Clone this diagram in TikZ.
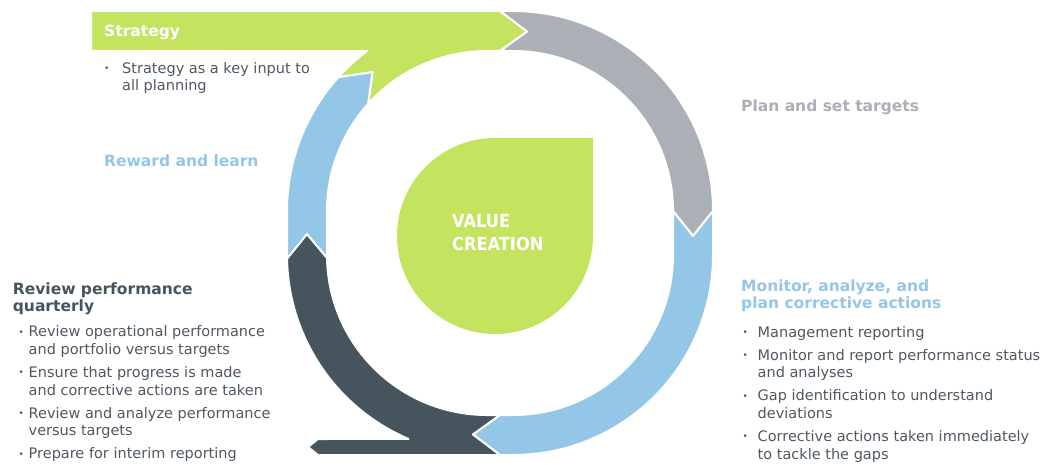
\documentclass[tikz,border=0pt]{standalone}
\usepackage{fontspec}
\setmainfont{DejaVu Sans}
\usepackage{xcolor}

\definecolor{stratgreen}{RGB}{196,227,94}
\definecolor{plangray}{RGB}{170,176,182}
\definecolor{monblue}{RGB}{148,198,231}
\definecolor{revdark}{RGB}{70,84,94}
\definecolor{bodygray}{RGB}{78,88,98}

\newcommand{\bul}[1]{\makebox[#1][l]{\fontsize{9}{9}\selectfont\raisebox{1.6pt}{•}}}

\tikzset{
    seg/.style = {draw = white, line width = 2pt, line join = round},
    head/.style = {font = \bfseries\fontsize{15.5}{17.5}\selectfont, inner sep = 0pt, align = left},
    body/.style = {font = \fontsize{14.5}{17.6}\selectfont, text = bodygray, inner sep = 0pt, align = left}
}

\begin{document}
\begin{tikzpicture}[x = 1pt, y = 1pt]
        \useasboundingbox (0,0) rectangle (1048,464);
        % corner centres of the rounded ring
        \coordinate (TL) at (487,253);
        \coordinate (TR) at (513,253);
        \coordinate (BR) at (513,209);
        \coordinate (BL) at (487,209);

        % strategy bar and top left of the ring
        \fill[stratgreen, seg] (91,413) -- ([shift={(TL)}]126.87:200) arc[start angle = 126.87, end angle = 138, radius = 200]
            -- ([shift={(TL)}]129.5:180) -- ([shift={(TL)}]138:160) arc[start angle = 138, end angle = 90, radius = 160]
            -- (500,413) -- ([shift={(TR)}]85.5:180) -- (500,453) -- (91,453) -- cycle;
        % plan and set targets
        \fill[plangray, seg] (500,453) -- ([shift={(TR)}]85.5:180) -- (500,413) -- (513,413)
            arc[start angle = 90, end angle = 0, radius = 160] -- (693,228) -- (713,253)
            arc[start angle = 0, end angle = 90, radius = 200] -- cycle;
        % monitor
        \fill[monblue, seg] (713,253) -- (693,228) -- (673,253) -- (673,209)
            arc[start angle = 0, end angle = -90, radius = 160] -- (500,49) -- ([shift={(BL)}]265.5:180)
            -- (500,9) -- (513,9) arc[start angle = -90, end angle = 0, radius = 200] -- cycle;
        % review, with its tail bar
        \fill[revdark, seg] (500,49) -- ([shift={(BL)}]265.5:180) -- (500,9) -- (318,9) -- (308,17) -- (318,25)
            -- ([shift={(BL)}]246.9:200) arc[start angle = 246.9, end angle = 181, radius = 200]
            -- (307,230) -- ([shift={(BL)}]181:160) arc[start angle = 181, end angle = 270, radius = 160] -- cycle;
        % reward and learn
        \fill[monblue, seg] ([shift={(BL)}]181:200) -- (307,230) -- ([shift={(BL)}]181:160)
            arc[start angle = 181, end angle = 180, radius = 160] -- (327,253)
            arc[start angle = 180, end angle = 138, radius = 160] -- ([shift={(TL)}]129.5:180) -- ([shift={(TL)}]138:200)
            arc[start angle = 138, end angle = 180, radius = 200] -- (287,209)
            arc[start angle = 180, end angle = 181, radius = 200] -- cycle;

        % value creation drop
        \fill[stratgreen] (495,326) -- (593,326) -- (593,228) arc[start angle = 0, end angle = -270, radius = 98] -- cycle;
        \node[font = \bfseries\fontsize{18}{23.5}\selectfont, text = white, inner sep = 0pt, align = left, anchor = north west] (value) at (452,250.1) {\scalebox{0.9}[1]{VALUE}\\\scalebox{0.9}[1]{CREATION}};

        \node[head, text = white, anchor = base west] (strat) at (104,427) {Strategy};
        \node[body, anchor = north west] (stratlist) at (104,402) {\bul{18pt}Strategy as a key input to\\\hspace*{18pt}all planning};

        \node[head, text = plangray, anchor = base west] (plan) at (741,352) {Plan and set targets};
        \node[head, text = monblue, anchor = base west] (reward) at (104,297) {Reward and learn};

        \node[head, text = monblue, anchor = north west] (monitor) at (741,184.8) {Monitor, analyze, and\\plan corrective actions};
        \node[body, anchor = north west] (monlist) at (742.5,137.9) {\bul{15pt}Management reporting\\[5.4pt]
            \bul{15pt}Monitor and report performance status\\\hspace*{15pt}and analyses\\[5.4pt]
            \bul{15pt}Gap identification to understand\\\hspace*{15pt}deviations\\[5.4pt]
            \bul{15pt}Corrective actions taken immediately\\\hspace*{15pt}to tackle the gaps};

        \node[head, text = revdark, anchor = north west] (review) at (12.7,181.5) {Review performance\\quarterly};
        \node[body, anchor = north west] (revlist) at (18.5,138.3) {\bul{10pt}Review operational performance\\\hspace*{10pt}and portfolio versus targets\\[5.4pt]
            \bul{10pt}Ensure that progress is made\\\hspace*{10pt}and corrective actions are taken\\[5.4pt]
            \bul{10pt}Review and analyze performance\\\hspace*{10pt}versus targets\\[5.4pt]
            \bul{10pt}Prepare for interim reporting};
    \end{tikzpicture}
\end{document}
